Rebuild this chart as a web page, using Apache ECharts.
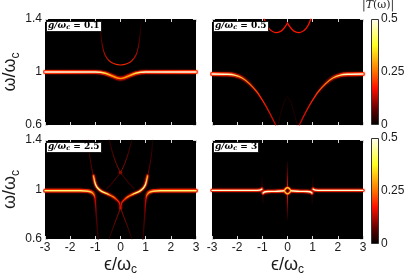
<!DOCTYPE html>
<html><head><meta charset="utf-8">
<script src="https://cdn.jsdelivr.net/npm/echarts@6/dist/echarts.min.js"></script>
<style>html,body{margin:0;padding:0;background:#fff}#c{width:415px;height:277px}</style>
</head><body><div id="c"></div>
<script>
// ---- axis ranges / labels ----
const xRange = [-3, 3];
const yRange = [0.6, 1.4];
const cRange = [0, 0.5];
const panelG = ['0.1', '0.5', '2.5', '3'];

// ---- panel 1 : g/wc = 0.1 ----
const p1Lower = [[-3,1.0],[-1.6,1.0],[-1.0,1.0],[-0.8,0.998],[-0.6,0.99],[-0.35,0.972],[-0.15,0.956],[0,0.951],[0.15,0.956],[0.35,0.972],[0.6,0.99],[0.8,0.998],[1.0,1.0],[1.6,1.0],[3,1.0]];
const p1Upper = [[-0.84,1.4],[-0.79,1.3],[-0.72,1.2],[-0.62,1.13],[-0.45,1.085],[-0.25,1.062],[0,1.053],[0.25,1.062],[0.45,1.085],[0.62,1.13],[0.72,1.2],[0.79,1.3],[0.84,1.4]];

// ---- panel 2 : g/wc = 0.5 ----
const p2Left = [[-3,0.985],[-2.4,0.983],[-2.1,0.977],[-1.8,0.955],[-1.5,0.91],[-1.22,0.851],[-0.96,0.776],[-0.7,0.688],[-0.47,0.6]];
const p2Right = [[3,0.985],[2.4,0.983],[2.1,0.977],[1.8,0.955],[1.5,0.91],[1.22,0.851],[0.96,0.776],[0.7,0.688],[0.47,0.6]];
const p2ArcL = [[-0.93,1.4],[-0.8,1.345],[-0.65,1.312],[-0.45,1.297],[-0.25,1.31],[-0.1,1.34],[0,1.37]];
const p2ArcR = [[0,1.37],[0.1,1.34],[0.25,1.31],[0.45,1.297],[0.65,1.312],[0.8,1.345],[0.93,1.4]];
const p2Arch = [[-0.38,0.6],[-0.25,0.7],[-0.12,0.78],[0,0.81],[0.12,0.78],[0.25,0.7],[0.38,0.6]];

// ---- panel 3 : g/wc = 2.5 ----
const p3OuterL = [[-3,0.99],[-1.6,0.99],[-1.3,0.986],[-1.15,0.976],[-1.07,0.96],[-1.02,0.935],[-0.99,0.88],[-0.96,0.78],[-0.92,0.68],[-0.89,0.6]];
const p3OuterR = [[3,0.99],[1.6,0.99],[1.3,0.986],[1.15,0.976],[1.07,0.96],[1.02,0.935],[0.99,0.88],[0.96,0.78],[0.92,0.68],[0.89,0.6]];
const p3WingL = [[-1.08,1.11],[-1.0,1.045],[-0.9,1.01],[-0.75,0.985],[-0.5,0.962],[-0.3,0.942],[-0.15,0.918],[-0.05,0.895],[0,0.85]];
const p3WingR = [[1.08,1.11],[1.0,1.045],[0.9,1.01],[0.75,0.985],[0.5,0.962],[0.3,0.942],[0.15,0.918],[0.05,0.895],[0,0.85]];
const p3WingTopL = [[-1.28,1.4],[-1.24,1.3],[-1.17,1.2],[-1.08,1.11]];
const p3WingTopR = [[1.28,1.4],[1.24,1.3],[1.17,1.2],[1.08,1.11]];
const p3TopVL = [[-0.45,1.4],[-0.32,1.3],[-0.17,1.21],[0,1.135]];
const p3TopVR = [[0.45,1.4],[0.32,1.3],[0.17,1.21],[0,1.135]];
const p3MidXL = [[0,1.135],[-0.2,1.085],[-0.38,1.04],[-0.55,1.005]];
const p3MidXR = [[0,1.135],[0.2,1.085],[0.38,1.04],[0.55,1.005]];
const p3LowVL = [[0,0.85],[-0.15,0.77],[-0.3,0.69],[-0.45,0.6]];
const p3LowVR = [[0,0.85],[0.15,0.77],[0.3,0.69],[0.45,0.6]];
const p3Dots = [[0,1.135],[0,0.85]];

// ---- panel 4 : g/wc = 3 ----
const p4OuterL = [[-3,0.993],[-1.4,0.993],[-1.1,0.995],[-1.02,1.003]];
const p4OuterR = [[3,0.993],[1.4,0.993],[1.1,0.995],[1.02,1.003]];
const p4InnerL = [[-0.97,0.972],[-0.92,0.98],[-0.8,0.984],[-0.5,0.985],[-0.25,0.988],[-0.15,0.99]];
const p4InnerR = [[0.97,0.972],[0.92,0.98],[0.8,0.984],[0.5,0.985],[0.25,0.988],[0.15,0.99]];
const p4Ring = [[-0.13,0.99],[-0.07,1.008],[0,1.015],[0.07,1.008],[0.13,0.99],[0.07,0.972],[0,0.965],[-0.07,0.972],[-0.13,0.99]];
const p4StemUp = [[0,1.015],[0,1.1],[0,1.22]];
const p4StemDown = [[0,0.965],[0,0.88],[0,0.76]];
const p4KinkL = [[-1.01,1.0],[-1.01,1.09]];
const p4KinkR = [[1.01,1.0],[1.01,1.09]];
const p4KinkLd = [[-0.98,0.975],[-0.98,0.89]];
const p4KinkRd = [[0.98,0.975],[0.98,0.89]];

// ---- helpers (styles only) ----
function grad(dir, stops){
  const g = {type:'linear', x:0, y:0, x2:0, y2:0, colorStops: stops.map(s=>({offset:s[0], color:s[1]}))};
  if (dir==='h') g.x2 = 1; else if (dir==='hr'){ g.x = 1; g.x2 = 0; } else g.y2 = 1;
  return g;
}
const series = [];
function line(p, data, w, color, blur, sc){
  series.push({type:'line', xAxisIndex:2*p, yAxisIndex:2*p, data:data, smooth:0.3, symbol:'none',
    silent:true, animation:false,
    lineStyle:{width:w, color:color, shadowBlur:blur||0, shadowColor:sc||'transparent', cap:'round', join:'round'}});
}
const RED_GLOW = 'rgba(230,20,0,0.8)';

// panel 1
line(0, p1Upper, 1.1, grad('v',[[0,'rgba(40,0,0,0.1)'],[0.45,'#500000'],[0.8,'#c01000'],[1,'#ff3000']]));
line(0, p1Lower, 3.8, grad('h',[[0,'#ff3000'],[0.38,'#e02000'],[0.5,'#b00000'],[0.62,'#e02000'],[1,'#ff3000']]), 2, RED_GLOW);
line(0, p1Lower, 1.6, grad('h',[[0,'#fffff0'],[0.35,'#ffffd0'],[0.4,'#ffe040'],[0.45,'#ffa000'],[0.5,'#ff9000'],[0.55,'#ffa000'],[0.6,'#ffe040'],[0.65,'#ffffd0'],[1,'#fffff0']]));

// panel 2
line(1, p2Arch, 1, '#240000');
line(1, p2ArcL, 1.1, '#ff1800', 1, 'rgba(255,0,0,0.5)');
line(1, p2ArcR, 1.1, '#ff1800', 1, 'rgba(255,0,0,0.5)');
const p2OuterStops = [[0,'#ff3000'],[0.35,'#e02000'],[0.55,'rgba(180,0,0,0.4)'],[0.75,'rgba(120,0,0,0)'],[1,'rgba(120,0,0,0)']];
const p2InnerStops = [[0,'#fffff0'],[0.3,'#ffffc0'],[0.42,'#ffd040'],[0.55,'#ff8000'],[0.75,'#ff2000'],[1,'#b00000']];
line(1, p2Left, 3.8, grad('h',p2OuterStops), 2, RED_GLOW);
line(1, p2Left, 1.3, grad('h',p2InnerStops));
line(1, p2Right, 3.8, grad('hr',p2OuterStops), 2, RED_GLOW);
line(1, p2Right, 1.3, grad('hr',p2InnerStops));

// panel 3
const faintV = grad('v',[[0,'rgba(80,0,0,0.4)'],[1,'#a00000']]);
line(2, p3WingTopL, 0.9, faintV);
line(2, p3WingTopR, 0.9, faintV);
line(2, p3TopVL, 0.9, grad('v',[[0,'#280000'],[1,'#b01000']]));
line(2, p3TopVR, 0.9, grad('v',[[0,'#280000'],[1,'#b01000']]));
line(2, p3MidXL, 0.9, '#600000');
line(2, p3MidXR, 0.9, '#600000');
line(2, p3LowVL, 0.9, grad('v',[[0,'#c01000'],[1,'#200000']]));
line(2, p3LowVR, 0.9, grad('v',[[0,'#c01000'],[1,'#200000']]));
const p3OStops = [[0,'#ff3000'],[0.06,'#e02000'],[0.15,'rgba(150,0,0,0.3)'],[0.3,'rgba(0,0,0,0)'],[1,'rgba(0,0,0,0)']];
const p3IStops = [[0,'#ffffe0'],[0.04,'#ffff80'],[0.1,'#ff9000'],[0.2,'#e00000'],[0.5,'#600000'],[1,'#200000']];
line(2, p3OuterL, 3.8, grad('v',p3OStops), 2, RED_GLOW);
line(2, p3OuterL, 1.4, grad('v',p3IStops));
line(2, p3OuterR, 3.8, grad('v',p3OStops), 2, RED_GLOW);
line(2, p3OuterR, 1.4, grad('v',p3IStops));
const p3WO = [[0,'rgba(160,0,0,0.3)'],[0.1,'#d02000'],[0.6,'#c01000'],[0.85,'rgba(160,0,0,0.3)'],[1,'rgba(0,0,0,0)']];
const p3WI = [[0,'#900000'],[0.07,'#ff9000'],[0.14,'#ffff90'],[0.45,'#ffff70'],[0.65,'#ff9000'],[0.85,'#ff2000'],[1,'#a00000']];
line(2, p3WingL, 3, grad('h',p3WO), 2, RED_GLOW);
line(2, p3WingL, 1.3, grad('h',p3WI));
line(2, p3WingR, 3, grad('hr',p3WO), 2, RED_GLOW);
line(2, p3WingR, 1.3, grad('hr',p3WI));
series.push({type:'scatter', xAxisIndex:4, yAxisIndex:4, data:p3Dots, symbolSize:2.5, silent:true, animation:false,
  itemStyle:{color:'#ff2000', shadowBlur:2, shadowColor:'rgba(255,0,0,0.8)'}});

// panel 4
const kink = grad('v',[[0,'rgba(60,0,0,0.3)'],[1,'#800000']]);
const kinkD = grad('v',[[0,'#800000'],[1,'rgba(60,0,0,0.3)']]);
line(3, p4KinkL, 0.8, kink); line(3, p4KinkR, 0.8, kink);
line(3, p4KinkLd, 0.8, kinkD); line(3, p4KinkRd, 0.8, kinkD);
line(3, p4StemUp, 1.1, grad('v',[[0,'rgba(60,0,0,0.3)'],[0.6,'#a00000'],[1,'#ff2000']]));
line(3, p4StemDown, 1.1, grad('v',[[0,'#ff2000'],[0.4,'#a00000'],[1,'rgba(60,0,0,0.3)']]));
[p4OuterL, p4OuterR, p4InnerL, p4InnerR].forEach(d => line(3, d, 3.4, '#e02000', 2, RED_GLOW));
line(3, p4Ring, 2.4, '#e02000', 2, RED_GLOW);
[p4OuterL, p4OuterR, p4InnerL, p4InnerR].forEach(d => line(3, d, 1.4, '#ffffd0'));
line(3, p4Ring, 1.1, '#ffd030');

// colorbars
const hot = grad('v',[[0,'#fffff4'],[0.25,'#ffff20'],[0.5,'#ff7000'],[0.65,'#ff1000'],[0.85,'#600000'],[1,'#000000']]);
[4,5].forEach(g => series.push({type:'bar', xAxisIndex:4+g, yAxisIndex:4+g, data:[cRange[1]], barWidth:'100%',
  silent:true, animation:false, itemStyle:{color:hot, borderColor:'#333', borderWidth:1}}));

// ---- layout ----
const grids = [
  {left:45, top:19, width:151, height:106},
  {left:212, top:19, width:151, height:106},
  {left:45, top:140, width:151, height:102},
  {left:212, top:140, width:151, height:102},
  {left:371, top:19, width:8, height:106},
  {left:371, top:138, width:8, height:106}
].map((g,i) => Object.assign(g, i<4 ? {show:true, backgroundColor:'#000', borderColor:'#000', borderWidth:0} : {show:false}));

const LBL = {fontFamily:'Liberation Sans', fontSize:12, color:'#1a1a1a'};
const nameRich = {
  w:{fontFamily:'Liberation Sans, DejaVu Sans', fontSize:18, lineHeight:22, color:'#1a1a1a'},
  s:{fontFamily:'Liberation Sans', fontSize:12, lineHeight:12, verticalAlign:'bottom', color:'#1a1a1a'}
};
const AL = {show:false, onZero:false};
const TK = {inside:true, length:3, lineStyle:{color:'#d8d8d8'}};
const xAxes = [], yAxes = [];
for (let i=0;i<4;i++){
  const bottomRow = i>=2, leftCol = i%2===0;
  xAxes.push({gridIndex:i, type:'value', min:xRange[0], max:xRange[1], interval:1, position:'bottom',
    axisLine:AL, splitLine:{show:false}, axisTick:TK,
    axisLabel:Object.assign({show:bottomRow, margin:3}, LBL),
    name: bottomRow ? '{w|ϵ}{w|/}{w|ω}{s|c}' : '', nameLocation:'middle', nameGap:15,
    nameTextStyle:{rich:nameRich, verticalAlign:'top'}});
  xAxes.push({gridIndex:i, type:'value', min:xRange[0], max:xRange[1], interval:1, position:'top',
    axisLine:AL, splitLine:{show:false}, axisTick:TK, axisLabel:{show:false}});
  yAxes.push({gridIndex:i, type:'value', min:yRange[0], max:yRange[1], interval:0.4, position:'left',
    axisLine:AL, splitLine:{show:false}, axisTick:TK,
    axisLabel:Object.assign({show:leftCol, margin:3}, LBL),
    name: leftCol ? '{w|ω}{w|/}{w|ω}{s|c}' : '', nameLocation:'middle', nameRotate:90, nameGap:21,
    nameTextStyle:{rich:nameRich}});
  yAxes.push({gridIndex:i, type:'value', min:yRange[0], max:yRange[1], interval:0.4, position:'right',
    axisLine:AL, splitLine:{show:false}, axisTick:TK, axisLabel:{show:false}});
}
[4,5].forEach(g => xAxes.push({gridIndex:g, type:'category', data:['T'], show:false}));
[4,5].forEach(g => yAxes.push({gridIndex:g, type:'value', min:cRange[0], max:cRange[1], interval:0.25, position:'right',
  axisLine:AL, splitLine:{show:false},
  axisTick:{inside:true, length:2, lineStyle:{color:'#222'}},
  axisLabel:Object.assign({margin:2}, LBL)}));
[4,5].forEach(g => yAxes.push({gridIndex:g, type:'value', min:cRange[0], max:cRange[1], interval:0.25, position:'left',
  axisLine:AL, splitLine:{show:false},
  axisTick:{inside:true, length:2, lineStyle:{color:'#222'}}, axisLabel:{show:false}}));

const labelPos = [[46,21],[213,21],[46,142],[213,142]];
const titleRich = {
  i:{fontFamily:'DejaVu Serif', fontStyle:'italic', fontSize:9, lineHeight:10, color:'#000'},
  s:{fontFamily:'DejaVu Serif', fontStyle:'italic', fontSize:6.5, lineHeight:6.5, verticalAlign:'bottom', color:'#000'},
  n:{fontFamily:'DejaVu Serif', fontSize:9, lineHeight:10, color:'#000'}
};
const titles = panelG.map((g,i) => ({left:labelPos[i][0], top:labelPos[i][1],
  text:'{i|g/ω}{s|c}{n| = ' + g + '}', backgroundColor:'#fff', borderColor:'#000', borderWidth:0.8, padding:[0,2,1,2],
  textStyle:{rich:titleRich}}));
titles.push({left:362, top:0, text:'|{t|T}(ω)|', padding:0,
  textStyle:{fontFamily:'DejaVu Serif', fontSize:11, fontWeight:'normal', color:'#222',
    rich:{t:{fontFamily:'DejaVu Serif', fontStyle:'italic', fontSize:11, color:'#222'}}}});

const chart = echarts.init(document.getElementById('c'), null, {renderer:'canvas'});
chart.setOption({animation:false, backgroundColor:'#fff', title:titles, grid:grids, xAxis:xAxes, yAxis:yAxes, series:series});
</script></body></html>
